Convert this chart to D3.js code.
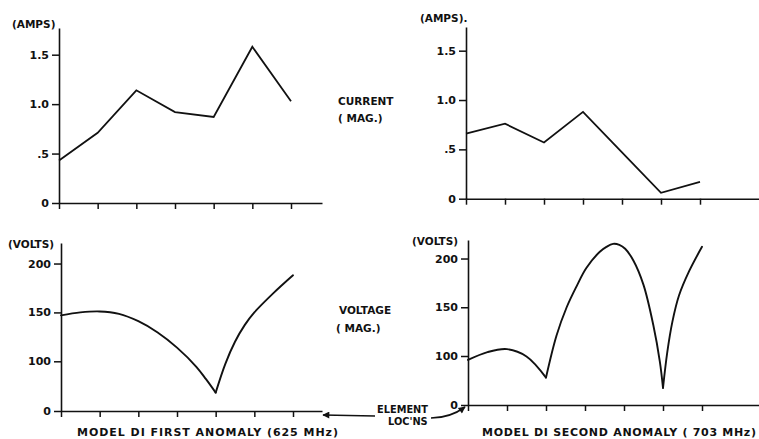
<!DOCTYPE html>
<html>
<head>
<meta charset="utf-8">
<script src="https://cdn.jsdelivr.net/npm/d3@7"></script>
<style>
  body { margin: 0; background: #fff; }
  svg { display: block; }
  text { font-family: "DejaVu Sans", "Liberation Sans", sans-serif; font-weight: bold; fill: #111; }
</style>
</head>
<body>
<svg id="chart" width="759" height="439"></svg>
<script>
// ---------------- DATA ----------------
const elementLocs = [1, 2, 3, 4, 5, 6, 7];

// Current magnitude (amps) at element locations
const currentFirst  = [0.43, 0.71, 1.14, 0.92, 0.87, 1.58, 1.03];
const currentSecond = [0.66, 0.76, 0.57, 0.88, 0.47, 0.06, 0.17];

// Voltage magnitude (volts) (location, value)
const voltFirstLoc  = [1, 1.5, 2, 2.5, 3, 3.5, 4, 4.5, 4.75, 5, 5.25, 5.5, 5.75, 6, 6.5, 7];
const voltFirstVal  = [147, 150, 151, 148.5, 141, 129.5, 114, 89, 64, 37, 95, 120, 137, 150, 170, 188];
const voltFirstCusps = [5];

const voltSecondLoc = [1, 1.5, 2, 2.5, 3, 3.27, 3.53, 3.79, 4.03, 4.38, 4.55, 4.72, 4.88, 5.03, 5.24, 5.5, 5.75, 5.92, 6, 6.11, 6.24, 6.41, 6.67, 7];
const voltSecondVal = [92, 104, 107, 99, 56, 121, 150, 172, 190, 207, 212, 215, 214, 210, 198, 173, 132, 88, 35, 104, 135, 162, 187, 212];
const voltSecondCusps = [3, 6];

const ampTicks = [0, 0.5, 1.0, 1.5];
const ampTickLabels = ["0", ".5", "1.0", "1.5"];
const voltTicks = [0, 100, 150, 200];
const voltTickLabels = ["0", "100", "150", "200"];

// ---------------- LAYOUT ----------------
const svg = d3.select("#chart");

const panels = [
  { kind: "amp", x0: 59, x1: 291, xEnd: 322, yRange: [203, 28], yDomain: [0, 1.77],
    vals: currentFirst, unit: "(AMPS)", unitX: 12, unitY: 28 },
  { kind: "amp", x0: 466, x1: 700, xEnd: 760, yRange: [198.7, 27], yDomain: [0, 1.74],
    vals: currentSecond, unit: "(AMPS).", unitX: 420, unitY: 22 },
  { kind: "volt", x0: 61, x1: 293, xEnd: 322, yDomain: [0, 100, 221], yRange: [411, 361.3, 243],
    loc: voltFirstLoc, vals: voltFirstVal, cusps: voltFirstCusps, unit: "(VOLTS)", unitX: 8, unitY: 248 },
  { kind: "volt", x0: 468, x1: 702, xEnd: 760, yDomain: [0, 100, 219], yRange: [405, 356, 240],
    loc: voltSecondLoc, vals: voltSecondVal, cusps: voltSecondCusps, unit: "(VOLTS)", unitX: 412, unitY: 245 }
];

panels.forEach(p => {
  const x = d3.scaleLinear().domain([1, 7]).range([p.x0, p.x1]);
  const xMax = x.invert(p.xEnd);
  const xs = d3.scaleLinear().domain([1, xMax]).range([p.x0, p.xEnd]);
  const y = d3.scaleLinear().domain(p.yDomain).range(p.yRange);
  const g = svg.append("g");

  // Y axis
  const yAxis = d3.axisLeft(y)
    .tickValues(p.kind === "amp" ? ampTicks : voltTicks)
    .tickFormat((d, i) => (p.kind === "amp" ? ampTickLabels : voltTickLabels)[i])
    .tickSize(7).tickSizeOuter(0).tickPadding(3);
  const ya = g.append("g").attr("transform", `translate(${p.x0},0)`).call(yAxis);
  ya.selectAll("path.domain").attr("stroke", "#111").attr("stroke-width", 1.6);
  ya.selectAll(".tick line").attr("stroke", "#111").attr("stroke-width", 1.5);
  ya.selectAll(".tick text").attr("font-size", 11).attr("font-family", "DejaVu Sans, sans-serif")
    .attr("font-weight", "bold").attr("fill", "#111");

  // X axis
  const xAxis = d3.axisBottom(xs).tickValues(elementLocs).tickFormat("")
    .tickSize(6).tickSizeOuter(0);
  const xa = g.append("g").attr("transform", `translate(0,${y(0)})`).call(xAxis);
  xa.selectAll("path.domain").attr("stroke", "#111").attr("stroke-width", 1.6);
  xa.selectAll(".tick line").attr("stroke", "#111").attr("stroke-width", 1.5);

  // Unit label
  g.append("text").attr("x", p.unitX).attr("y", p.unitY).attr("font-size", 10.5).text(p.unit);

  // Data
  if (p.kind === "amp") {
    const line = d3.line().x((d, i) => x(elementLocs[i])).y(d => y(d));
    g.append("path").datum(p.vals).attr("d", line)
      .attr("fill", "none").attr("stroke", "#111").attr("stroke-width", 1.8).attr("stroke-linejoin", "miter");
  } else {
    const pts = p.loc.map((l, i) => [l, p.vals[i]]);
    // split into arches at cusp locations
    const breaks = [p.loc[0], ...p.cusps, p.loc[p.loc.length - 1]];
    const line = d3.line().x(d => x(d[0])).y(d => y(d[1])).curve(d3.curveCatmullRom.alpha(0.5));
    for (let k = 0; k < breaks.length - 1; k++) {
      const seg = pts.filter(d => d[0] >= breaks[k] && d[0] <= breaks[k + 1]);
      g.append("path").datum(seg).attr("d", line)
        .attr("fill", "none").attr("stroke", "#111").attr("stroke-width", 1.9)
        .attr("stroke-linecap", "round");
    }
  }
});

// Side labels
function label(txt, xPos, yPos, size) {
  svg.append("text").attr("x", xPos).attr("y", yPos).attr("font-size", size).text(txt);
}
label("CURRENT", 338, 105, 10.5);
label("( MAG.)", 338, 122, 10.5);
label("VOLTAGE", 339, 314, 10.5);
label("( MAG.)", 336, 332, 10.5);
label("ELEMENT", 377, 413, 9.8);
label("LOC'NS", 388, 425, 9.8);

// Titles
svg.append("text").attr("x", 77).attr("y", 436).attr("font-size", 11)
  .attr("textLength", 261).attr("lengthAdjust", "spacing")
  .text("MODEL DI  FIRST  ANOMALY  (625 MHz)");
svg.append("text").attr("x", 482).attr("y", 436).attr("font-size", 11)
  .attr("textLength", 274).attr("lengthAdjust", "spacing")
  .text("MODEL DI  SECOND ANOMALY ( 703 MHz)");

// Arrows
const defs = svg.append("defs");
defs.append("marker").attr("id", "ah").attr("viewBox", "0 0 10 10")
  .attr("refX", 9).attr("refY", 5).attr("markerWidth", 10).attr("markerHeight", 7)
  .attr("markerUnits", "userSpaceOnUse").attr("orient", "auto")
  .append("path").attr("d", "M0,0 L10,5 L0,10 Z").attr("fill", "#111");
svg.append("path").attr("d", "M375,416 L323,415")
  .attr("stroke", "#111").attr("stroke-width", 1.6).attr("fill", "none").attr("marker-end", "url(#ah)");
svg.append("path").attr("d", "M431,418 Q450,418 465,407")
  .attr("stroke", "#111").attr("stroke-width", 1.6).attr("fill", "none").attr("marker-end", "url(#ah)");
</script>
</body>
</html>
